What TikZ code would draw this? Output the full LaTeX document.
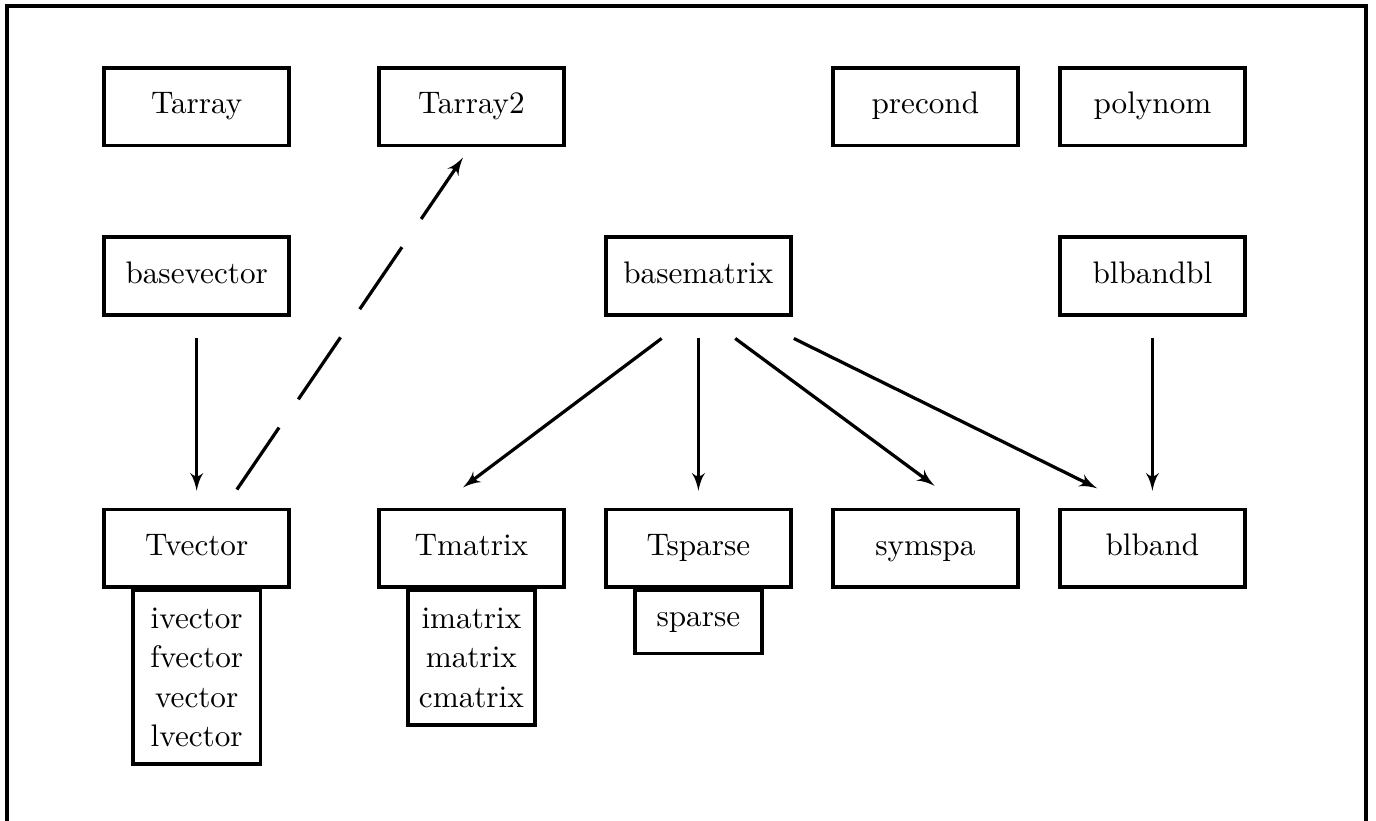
\documentclass[tikz,border=0pt]{standalone}
\usepackage{tikz}
\usetikzlibrary{shapes,arrows,positioning,calc}

\begin{document}
\begin{tikzpicture}[node distance = 4.6mm, auto]

    % Define block styles
    \tikzstyle{block} = [rectangle, draw, line width = 1.2pt,
        text centered, minimum width = 22.1mm, minimum height = 9.3mm,
        text height = 1.6ex, text depth = .5ex,
        font = \fontsize{10.6}{13.3}\selectfont]
    \tikzstyle{sub} = [rectangle, draw, line width = 1.2pt, align = center,
        minimum width = 15.2mm, inner ysep = 6pt, anchor = north,
        font = \fontsize{10.6}{13.3}\selectfont]
    \tikzstyle{line} = [draw, -latex', line width = 1.1pt]
    \tikzstyle{dline} = [line, dash pattern = on 25.5pt off 11.6pt]

    % Frame and size
    \useasboundingbox (-23.5mm,-32.5mm) rectangle (140.9mm,65.5mm);
    \draw [line width = 1.4pt] (-22.7mm,-33mm) -- (-22.7mm,64.8mm)
        -- (139.7mm,64.8mm) -- (139.7mm,-33mm);

    % Place nodes
    \node [block] (tvector) at (0,0) {Tvector};
    \node [block, right = 10.3mm of tvector] (tmatrix) {Tmatrix};
    \node [block, right = of tmatrix] (tsparse) {Tsparse};
    \node [block, right = of tsparse] (symspa) {symspa};
    \node [block, right = of symspa] (blband) {blband};

    \node [block, above = 22.8mm of tvector] (basevector) {basevector};
    \node [block, above = 22.8mm of tsparse] (basematrix) {basematrix};
    \node [block, above = 22.8mm of blband] (blbandbl) {blbandbl};

    \node [block, above = 10.5mm of basevector] (tarray) {Tarray};
    \node [block, right = 10.3mm of tarray] (tarray2) {Tarray2};
    \node [block] (precond) at (tarray -| symspa) {precond};
    \node [block] (polynom) at (tarray -| blband) {polynom};

    \node [sub] (tvectorsub) at (tvector.south)
        {ivector\\fvector\\vector\\lvector};
    \node [sub] (tmatrixsub) at (tmatrix.south)
        {imatrix\\matrix\\cmatrix};
    \node [sub, minimum height = 7.5mm] (tsparsesub) at (tsparse.south)
        {sparse};

    % Draw edges
    \path [line, shorten <= 2.6mm, shorten >= 2mm] (basevector) -- (tvector);
    \path [dline] ($(tvector.north)+(4.8mm,2.15mm)$)
        -- ($(tarray2.south)+(-1mm,-1.2mm)$);
    \path [line] ($(basematrix.south)+(-4.4mm,-2.6mm)$)
        -- ($(tmatrix.north)+(-1mm,2.4mm)$);
    \path [line, shorten <= 2.6mm, shorten >= 2mm] (basematrix) -- (tsparse);
    \path [line] ($(basematrix.south)+(4.4mm,-2.6mm)$)
        -- ($(symspa.north)+(1.1mm,2.6mm)$);
    \path [line] ($(basematrix.south)+(11.4mm,-2.6mm)$)
        -- ($(blband.north)+(-6.6mm,2.3mm)$);
    \path [line, shorten <= 2.6mm, shorten >= 2mm] (blbandbl) -- (blband);

\end{tikzpicture}
\end{document}
